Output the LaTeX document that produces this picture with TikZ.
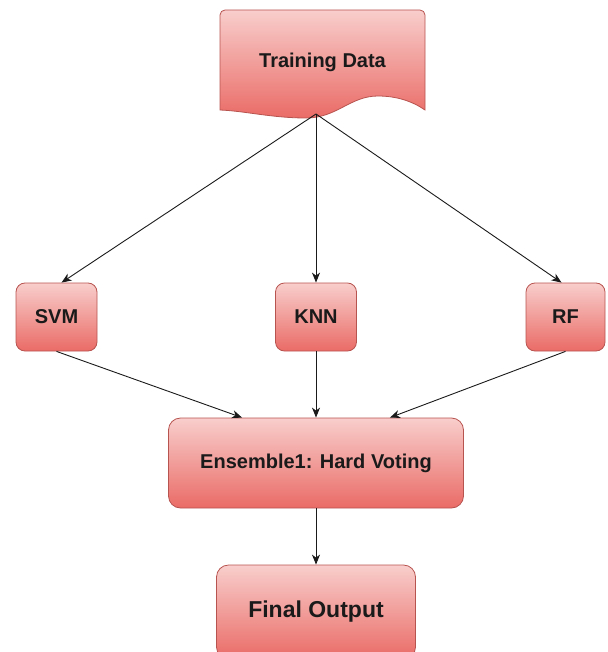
\documentclass[tikz,border=0pt]{standalone}
\usepackage{fontspec}
\setmainfont{Liberation Sans}
\usetikzlibrary{arrows.meta,calc}
\definecolor{boxtop}{HTML}{F8CECC}
\definecolor{boxbot}{HTML}{EA6B66}
\definecolor{boxline}{HTML}{B85450}
\definecolor{ink}{HTML}{1A1A1A}
\begin{document}
\begin{tikzpicture}[x=1pt,y=-1pt,
  label font/.style={font=\bfseries\fontsize{20}{24}\selectfont, text=ink},
  redbox/.style={draw=boxline, line width=0.8pt, top color=boxtop, bottom color=boxbot,
    rounded corners=9pt, label font, inner sep=0pt},
  link/.style={draw=ink, line width=0.9pt, -{Stealth[length=10pt,width=8pt,inset=3pt]}}
]
\clip (0,0) rectangle (607,652);

% document-shaped source box with a wavy bottom edge
\path[draw=boxline, line width=0.8pt, top color=boxtop, bottom color=boxbot]
  (220,110) [rounded corners=5pt] -- (220,10) -- (425,10) [sharp corners] -- (425,110)
  .. controls (412,101) and (396,96) .. (378,96)
  .. controls (350,96) and (337,118) .. (306,118)
  .. controls (272,118) and (245,111) .. (220,110) -- cycle;
\node[label font] (td) at (322.5,62) {Training Data};
\coordinate (tdout) at (316,114);

% base classifiers
\node[redbox, minimum width=81pt, minimum height=68pt] (svm) at (56.5,317) {SVM};
\node[redbox, minimum width=81pt, minimum height=68pt] (knn) at (316,317) {KNN};
\node[redbox, minimum width=79pt, minimum height=68pt] (rf) at (565.5,317) {RF};

% combiner and result
\node[redbox, rounded corners=12pt, minimum width=295pt, minimum height=90pt] (ens) at (316,463) {Ensemble1: Hard Voting};
\node[redbox, rounded corners=12pt, minimum width=199pt, minimum height=94pt,
  font=\bfseries\fontsize{23}{27}\selectfont] (fin) at (316,612) {Final Output};

% connectors
\draw[link] (tdout) -- ([xshift=5pt]svm.north);
\draw[link] (tdout) -- (knn.north);
\draw[link] (tdout) -- ([xshift=-4pt]rf.north);
\draw[link] (svm.south) -- ($(ens.north west)!0.25!(ens.north east)$);
\draw[link] (knn.south) -- (ens.north);
\draw[link] (rf.south) -- ($(ens.north west)!0.75!(ens.north east)$);
\draw[link] (ens.south) -- (fin.north);
\end{tikzpicture}
\end{document}
